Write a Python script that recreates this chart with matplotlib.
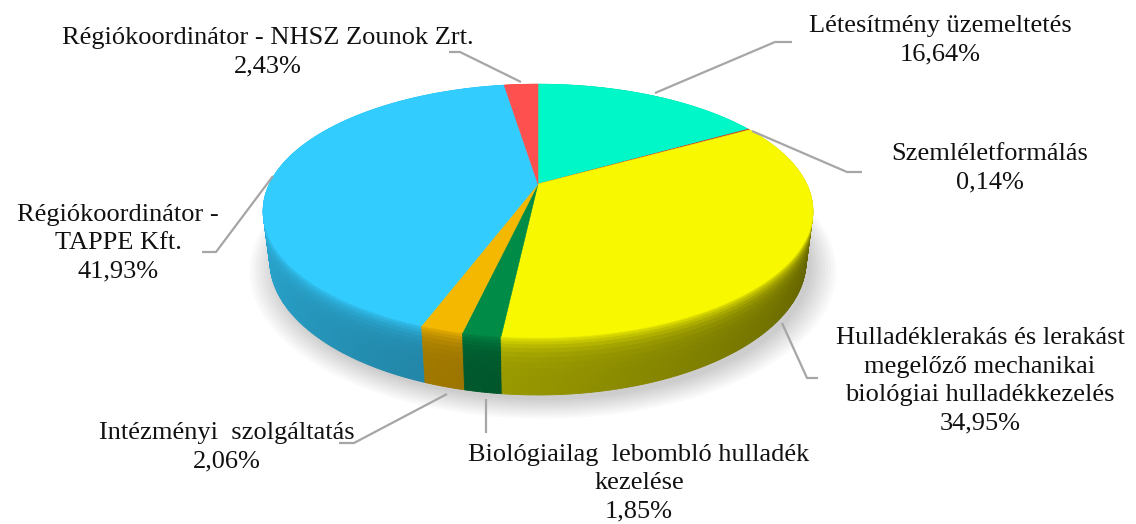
import numpy as np
import matplotlib
matplotlib.use("Agg")
import matplotlib.pyplot as plt
from matplotlib import font_manager as fm
from matplotlib.collections import PolyCollection

# slice data, clockwise from 12 o'clock
labels = [
    "Létesítmény üzemeltetés",
    "Szemléletformálás",
    "Hulladéklerakás és lerakást\nmegelőző mechanikai\nbiológiai hulladékkezelés",
    "Biológiailag  lebombló hulladék\nkezelése",
    "Intézményi  szolgáltatás",
    "Régiókoordinátor -\nTAPPE Kft.",
    "Régiókoordinátor - NHSZ Zounok Zrt.",
]
values = [16.64, 0.14, 34.95, 1.85, 2.06, 41.93, 2.43]
colors = ["#00F8C8", "#D8402A", "#F8F800", "#008C46", "#F5B800", "#33CCFF", "#FF5050"]

# label layout (pixel coords, y down): text centre and leader polyline
label_pos = [(940, 40), (990, 168), (980, 381), (639, 483), (227, 447), (118, 243), (268, 52)]
leaders = [
    [(655, 93), (775, 42), (792, 42)],
    [(752, 131), (847, 172), (862, 172)],
    [(782, 323), (807, 378), (818, 378)],
    [(486, 399), (486, 433)],
    [(447, 394), (354, 443), (339, 443)],
    [(273, 176), (216, 252), (202, 252)],
    [(521, 82), (460, 52), (449, 52)],
]

# projection of the 3D disc
cx, cy = 538, 184
elev = np.radians(27.6)
s, c = np.sin(elev), np.cos(elev)
D = 4.17
Fx, Fy = 1120, 1089
h = 0.217


def proj(t_deg, r=1.0, z=0.0):
    t = np.radians(t_deg)
    u, v = r * np.cos(t), r * np.sin(t)
    depth = D + v * c - z * s
    return cx + Fx * u / depth, cy - Fy * (v * s + z * c) / depth, depth


def shade(hexcol, f):
    rgb = np.array(matplotlib.colors.to_rgb(hexcol))
    return tuple(np.clip(rgb * f, 0, 1))


def mix(a, b, w):
    return tuple(np.array(a) * (1 - w) + np.array(b) * w)


def side_factor(t):
    tt = ((t + 180) % 360) - 180
    if tt >= 0:
        return 0.85 if tt > 90 else 0.4
    return float(np.clip(0.4 + 0.45 * (-20 - tt) / 160, 0.4, 0.85))


serif_path = fm.findfont(fm.FontProperties(family=["Liberation Serif", "DejaVu Serif"]))
label_font = fm.FontProperties(fname=serif_path, size=19)

fig = plt.figure(figsize=(11.36, 5.24), dpi=100)
ax = fig.add_axes([0, 0, 1, 1])
ax.set_xlim(0, 1136)
ax.set_ylim(524, 0)
ax.axis("off")

# soft shadow under the disc
ring = np.linspace(0, 360, 361)
for k in range(10):
    grow = 1.0 + 0.01 * k
    xs, ys, _ = proj(ring, grow, -h)
    ax.fill(xs + 5, ys + 5, color="#000000", alpha=0.02, lw=0, zorder=1)

bounds = 90 - 360 * np.concatenate([[0], np.cumsum(values)]) / 100.0

# side wall, drawn far to near; lighter near the top rim
zlev = -h * np.linspace(0, 1, 13) ** 1.6
quads, qcols, qdepth = [], [], []
for i, col in enumerate(colors):
    t0, t1 = bounds[i], bounds[i + 1]
    n = max(2, int(abs(t0 - t1) / 0.5))
    ts = np.linspace(t0, t1, n + 1)
    top_rgb = matplotlib.colors.to_rgb(col)
    for a, b in zip(ts[:-1], ts[1:]):
        base = shade(col, side_factor((a + b) / 2))
        for j in range(len(zlev) - 1):
            zm = -(zlev[j] + zlev[j + 1]) / 2
            w = 0.85 * np.exp(-zm / 0.035)
            xa1, ya1, d = proj(a, 1.0, zlev[j])
            xb1, yb1, _ = proj(b, 1.0, zlev[j])
            xa2, ya2, _ = proj(a, 1.0, zlev[j + 1])
            xb2, yb2, _ = proj(b, 1.0, zlev[j + 1])
            quads.append([(xa1, ya1), (xb1, yb1), (xb2, yb2), (xa2, ya2)])
            qcols.append(mix(base, top_rgb, w))
            qdepth.append(d)
order = np.argsort(qdepth, kind="stable")[::-1]
pc = PolyCollection([quads[k] for k in order], facecolors=[qcols[k] for k in order],
                    edgecolors=[qcols[k] for k in order], linewidths=0.6, zorder=2)
ax.add_collection(pc)

# top faces
for i, col in enumerate(colors):
    t0, t1 = bounds[i], bounds[i + 1]
    ts = np.linspace(t0, t1, max(3, int(abs(t0 - t1) * 2)))
    xs, ys, _ = proj(ts)
    px = np.concatenate([[cx], xs])
    py = np.concatenate([[cy], ys])
    ax.fill(px, py, color=col, lw=0.4, ec=col, zorder=3)

# leader lines and labels
for i, lab in enumerate(labels):
    pts = np.array(leaders[i])
    ax.plot(pts[:, 0], pts[:, 1], color="#A6A6A6", lw=1.6, zorder=4, solid_capstyle="butt")
    pct = f"{values[i]:.2f}".replace(".", ",") + "%"
    x, y = label_pos[i]
    ax.text(x, y, lab + "\n" + pct, ha="center", va="center", fontproperties=label_font,
            color="#111111", linespacing=1.38, zorder=5)

fig.savefig("out.png", dpi=100)
